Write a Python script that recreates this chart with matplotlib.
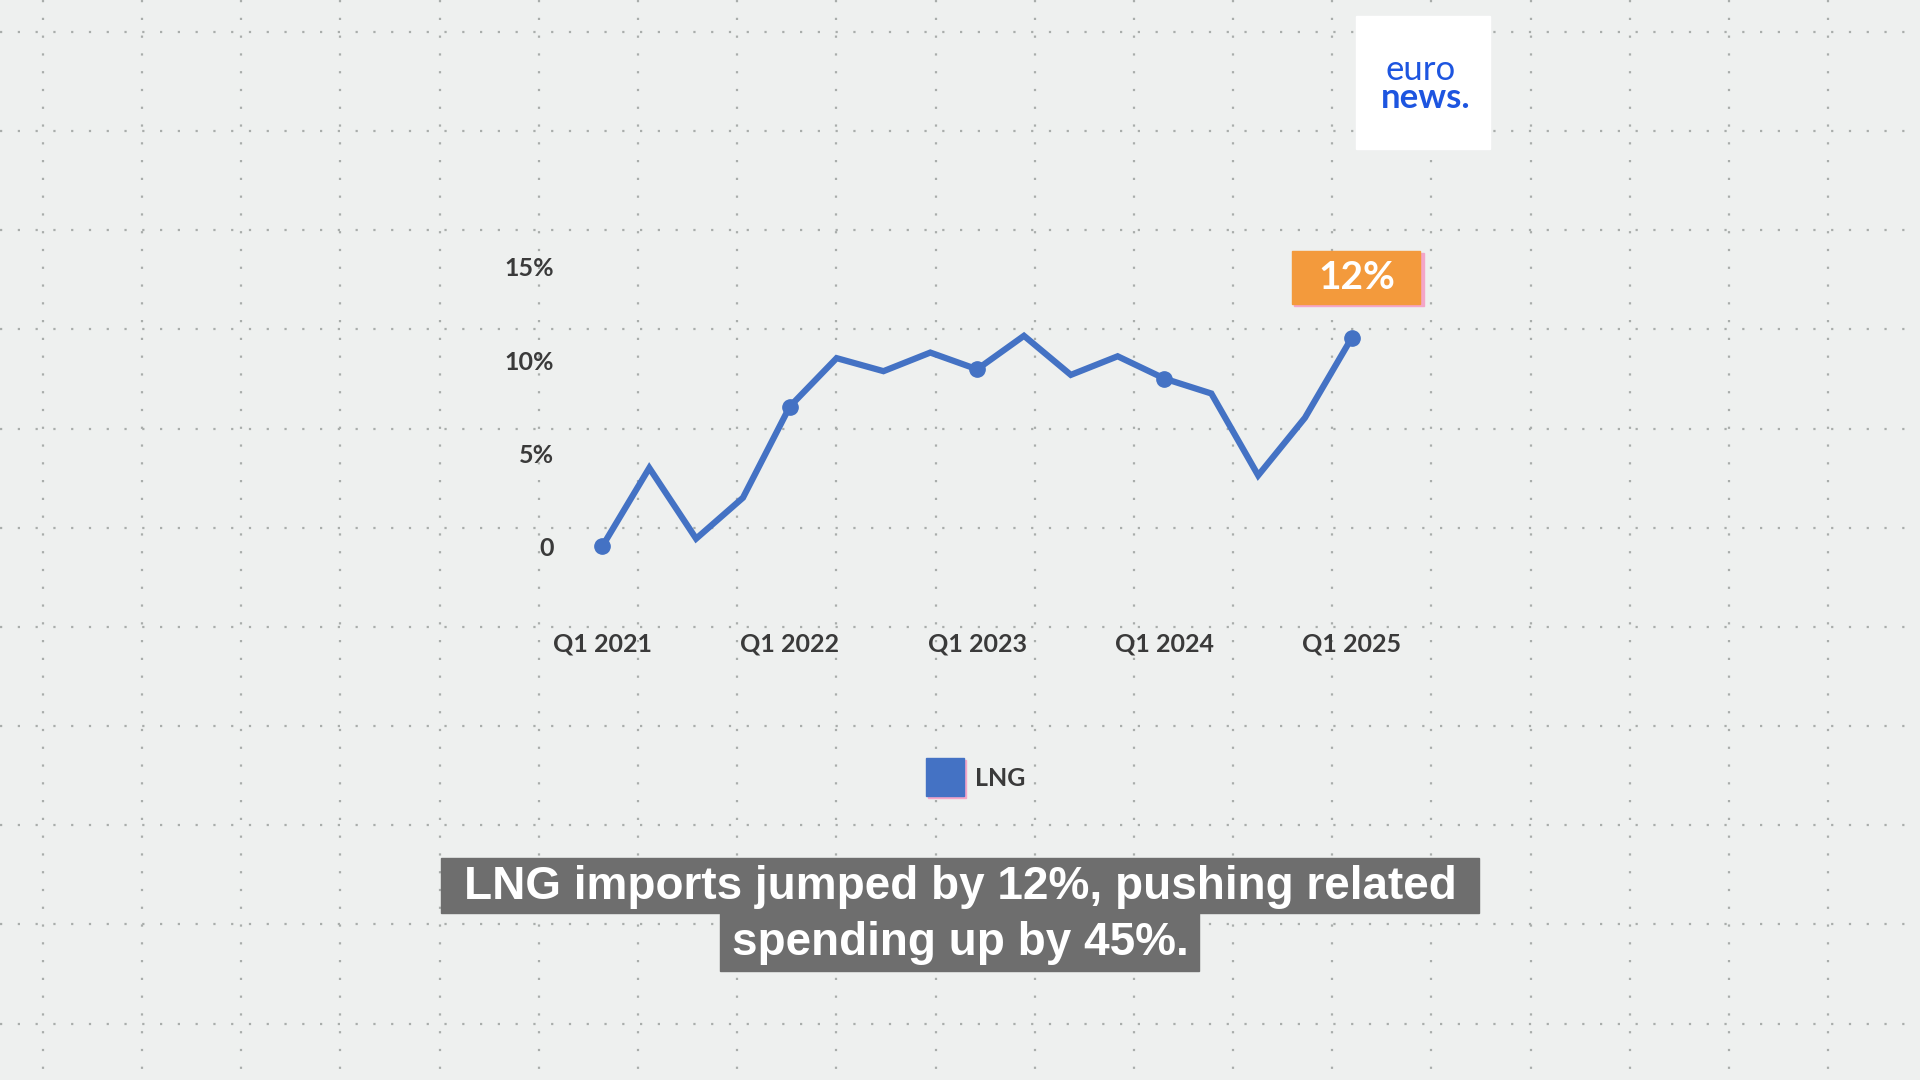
import matplotlib.pyplot as plt
from matplotlib.patches import Rectangle

quarters = ["Q1 2021", "Q2 2021", "Q3 2021", "Q4 2021",
            "Q1 2022", "Q2 2022", "Q3 2022", "Q4 2022",
            "Q1 2023", "Q2 2023", "Q3 2023", "Q4 2023",
            "Q1 2024", "Q2 2024", "Q3 2024", "Q4 2024",
            "Q1 2025"]
lng = [0.0, 4.2, 0.4, 2.6, 7.5, 10.1, 9.4, 10.4, 9.5, 11.3,
       9.2, 10.2, 9.0, 8.2, 3.8, 6.9, 11.2]
yticks = [0, 5, 10, 15]
ytick_labels = ["0", "5%", "10%", "15%"]
callout = "12%"

W, H = 1568, 882  # layout measured in reference pixels
def fx(x): return x / W
def fy(y): return 1 - y / H

BLUE = "#4472c4"
fig = plt.figure(figsize=(19.2, 10.8), dpi=100)
fig.patch.set_facecolor("#eef0ef")

# dotted background grid
bg = fig.add_axes([0, 0, 1, 1])
bg.set_xlim(0, W); bg.set_ylim(H, 0); bg.axis("off")
for gx in range(35, W, 81):
    bg.plot([gx, gx], [0, H], color="#a9adab", lw=1.6, ls=(0, (1, 7)))
for gy in range(26, H, 81):
    bg.plot([0, W], [gy, gy], color="#a9adab", lw=1.6, ls=(0, (1, 7)))

# main chart
x0, x1 = 492, 1104
y0, y15 = 446, 218
ax = fig.add_axes([fx(x0), fy(y0), fx(x1) - fx(x0), fy(y15) - fy(y0)])
ax.set_facecolor("none")
n = len(lng)
xs = list(range(n))
ax.plot(xs, lng, color=BLUE, lw=4.5, solid_joinstyle="miter")
mk = [i for i, q in enumerate(quarters) if q.startswith("Q1")]
ax.plot(mk, [lng[i] for i in mk], "o", color=BLUE, ms=11)
ax.set_xlim(0, n - 1)
ax.set_ylim(0, 15)
for s in ax.spines.values():
    s.set_visible(False)
ax.tick_params(length=0, labelsize=18, colors="#3a3a3a")
ax.set_yticks(yticks, ytick_labels, fontfamily="Lato", fontweight="bold")
ax.set_xticks(mk, [quarters[i] for i in mk], fontfamily="Lato", fontweight="bold")
ax.tick_params(axis="x", pad=62)
ax.tick_params(axis="y", pad=35)
for l in ax.get_lines():
    l.set_clip_on(False)

# value label
bg.add_patch(Rectangle((1057, 207), 106, 43, color="#f4a6c8", zorder=3))
bg.add_patch(Rectangle((1055, 205), 105, 43, color="#f39a3c", zorder=4))
bg.text(1108, 227, callout, color="white", fontsize=28, fontweight="bold",
        fontfamily="Lato", ha="center", va="center", zorder=5)

# legend
bg.add_patch(Rectangle((758, 621), 31, 31, color="#f4a6c8", zorder=3))
bg.add_patch(Rectangle((756, 619), 31, 31, color=BLUE, zorder=4))
bg.text(796, 636, "LNG", fontsize=18, fontweight="bold", fontfamily="Lato",
        color="#3a3a3a", va="center")

# logo
bg.add_patch(Rectangle((1107, 13), 110, 109, color="white", zorder=3))
bg.text(1160, 57, "euro", fontsize=25, color="#1d55e0", ha="center", va="center",
        fontfamily="Lato", zorder=4)
bg.text(1164, 80, "news.", fontsize=25, color="#1d55e0", ha="center", va="center",
        fontfamily="Lato", fontweight="bold", zorder=4)

# subtitle
bg.add_patch(Rectangle((360, 701), 848, 45, color="#6e6e6e", zorder=3))
bg.add_patch(Rectangle((588, 746), 391, 47, color="#6e6e6e", zorder=3))
bg.text(784, 724, "LNG imports jumped by 12%, pushing related", fontsize=33,
        color="white", fontweight="bold", fontfamily="Liberation Sans",
        ha="center", va="center", zorder=4)
bg.text(784, 770, "spending up by 45%.", fontsize=33,
        color="white", fontweight="bold", fontfamily="Liberation Sans",
        ha="center", va="center", zorder=4)

fig.savefig("out.png", dpi=100)
